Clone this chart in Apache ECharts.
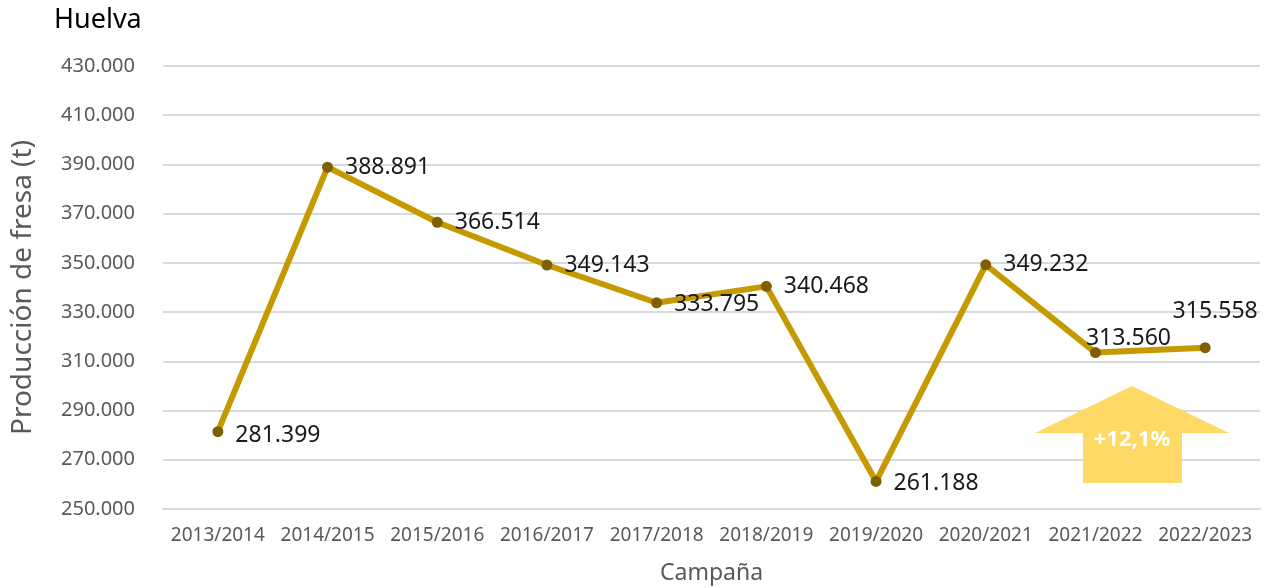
<!DOCTYPE html>
<html>
<head>
<meta charset="utf-8">
<script src="https://cdn.jsdelivr.net/npm/echarts@6/dist/echarts.min.js"></script>
<style>
  html, body { margin: 0; padding: 0; background: #fff; }
  #chart { width: 1272px; height: 588px; }
</style>
</head>
<body>
<div id="chart"></div>
<script>
// campañas y producción de fresa (t)
const campaigns = ['2013/2014', '2014/2015', '2015/2016', '2016/2017', '2017/2018',
  '2018/2019', '2019/2020', '2020/2021', '2021/2022', '2022/2023']
const production = [281399, 388891, 366514, 349143, 333795, 340468, 261188, 349232, 313560, 315558]
const yTicks = [250000, 270000, 290000, 310000, 330000, 350000, 370000, 390000, 410000, 430000]

const fmt = (v) => String(v).replace(/\B(?=(\d{3})+(?!\d))/g, '.')
const font = 'Noto Sans'

const labelPos = ['right', 'right', 'right', 'right', 'right', 'right', 'right', 'right', 'top', 'top']
const labelOffset = [[0, 4], [0, 0], [0, 0], [0, 0], [0, 2], [0, 0], [0, 2], [0, 0], [33, 15], [10, -7]]

const chart = echarts.init(document.getElementById('chart'))

chart.setOption({
  animation: false,
  textStyle: { fontFamily: font },
  grid: { left: 163, right: 12, top: 66, bottom: 79, outerBoundsMode: 'none' },
  title: {
    text: 'Huelva',
    left: 49, top: 2,
    textStyle: { fontFamily: font, fontSize: 27, fontWeight: 'normal', color: '#000' }
  },
  xAxis: {
    type: 'category',
    data: campaigns,
    name: 'Campaña',
    nameLocation: 'middle',
    nameGap: 53,
    nameTextStyle: { fontSize: 23, color: '#595959', fontFamily: font },
    axisTick: { show: false },
    axisLine: { lineStyle: { color: '#d9d9d9', width: 2 } },
    axisLabel: { interval: 0, fontSize: 19, color: '#595959', margin: 17, fontFamily: font }
  },
  yAxis: {
    type: 'value',
    min: yTicks[0],
    max: yTicks[yTicks.length - 1],
    interval: 20000,
    name: 'Producción de fresa (t)',
    nameLocation: 'middle',
    nameGap: 126,
    nameTextStyle: { fontSize: 28, color: '#595959', fontFamily: font },
    axisLine: { show: false },
    axisTick: { show: false },
    axisLabel: { fontSize: 20, color: '#595959', margin: 28, formatter: fmt, fontFamily: font },
    splitLine: { lineStyle: { color: '#d9d9d9', width: 2 } }
  },
  series: [{
    type: 'line',
    data: production.map((v, i) => ({
      value: v,
      label: { position: labelPos[i], offset: labelOffset[i] }
    })),
    symbol: 'circle',
    symbolSize: 11,
    lineStyle: { color: '#C49A00', width: 6 },
    itemStyle: { color: '#7F6000' },
    label: {
      show: true,
      distance: 12,
      fontSize: 23,
      color: '#1a1a1a',
      fontFamily: font,
      formatter: (p) => fmt(p.value)
    }
  }],
  graphic: [{
    type: 'polygon',
    shape: {
      points: [[1132, 386], [1229, 433], [1182, 433], [1182, 483], [1083, 483], [1083, 433], [1035, 433]]
    },
    style: { fill: '#FFD966' },
    z: 10
  }, {
    type: 'text',
    x: 1132, y: 440,
    style: {
      text: '+12,1%',
      fill: '#fff',
      font: 'bold 22px "Noto Sans"',
      align: 'center',
      verticalAlign: 'middle'
    },
    z: 11
  }]
})
</script>
</body>
</html>
